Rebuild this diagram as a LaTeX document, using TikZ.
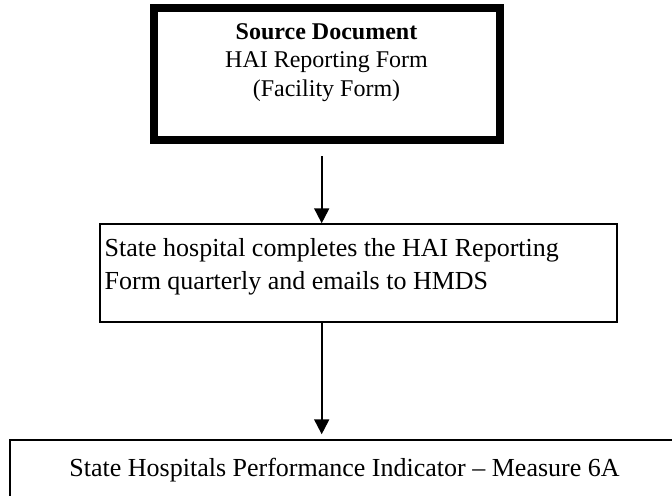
\documentclass[tikz,border=0pt]{standalone}
\usepackage{fontspec}
\setmainfont{Liberation Serif}
\usetikzlibrary{
  arrows.meta,
  positioning,
  calc
}
\definecolor{linecolor}{RGB}{0, 0, 0}
\definecolor{labelcolor}{RGB}{0, 0, 0}
\tikzset{
sourceblock/.style={
  draw=linecolor,
  line width=4pt,
  minimum width=173pt,
  minimum height=66pt,
  inner sep=0pt
},
stepblock/.style={
  draw=linecolor,
  line width=0.75pt,
  inner sep=0pt
},
sourcetext/.style={
  align=center,
  inner sep=0pt,
  text=labelcolor,
  font=\fontsize{12pt}{14.25pt}\selectfont
},
steptext/.style={
  align=left,
  inner sep=0pt,
  text=labelcolor,
  font=\fontsize{13pt}{16.5pt}\selectfont
},
arrow/.style={
  -{Triangle[length=7.5pt,width=7.5pt]},
  line width=1pt,
  draw=linecolor
}
}

\begin{document}
\begin{tikzpicture}[x=0.5pt,y=-0.5pt]
  \useasboundingbox (0,0) rectangle (672,495);
  \clip (0,0) rectangle (672,495);

  % boxes
  \node[sourceblock] (srcbox) at (326.5,74) {};
  \node[sourcetext, anchor=north] (srclabel) at ($(srcbox.north)+(0,18.7)$)
    {\textbf{Source Document}\\HAI Reporting Form\\(Facility Form)};

  \node[stepblock, minimum width=258.5pt, minimum height=49pt] (hospbox) at (358.5,273) {};
  \node[steptext, anchor=north west] (hosplabel) at ($(hospbox.north west)+(5,14.3)$)
    {State hospital completes the HAI Reporting\\Form quarterly and emails to HMDS};

  \node[stepblock, steptext, minimum width=334.5pt, minimum height=30pt] (reportbox) at (344.5,470)
    {State Hospitals Performance Indicator -- Measure 6A};

  % arrows
  \coordinate (arrowtop) at ($(srcbox.south)+(-4.8,12)$);
  \coordinate (arrowmid) at (arrowtop |- hospbox.south);
  \draw[arrow] (arrowtop) -- (arrowtop |- hospbox.north);
  \draw[arrow] (arrowmid) -- ($(arrowmid |- reportbox.north)+(0,-5)$);
\end{tikzpicture}
\end{document}
